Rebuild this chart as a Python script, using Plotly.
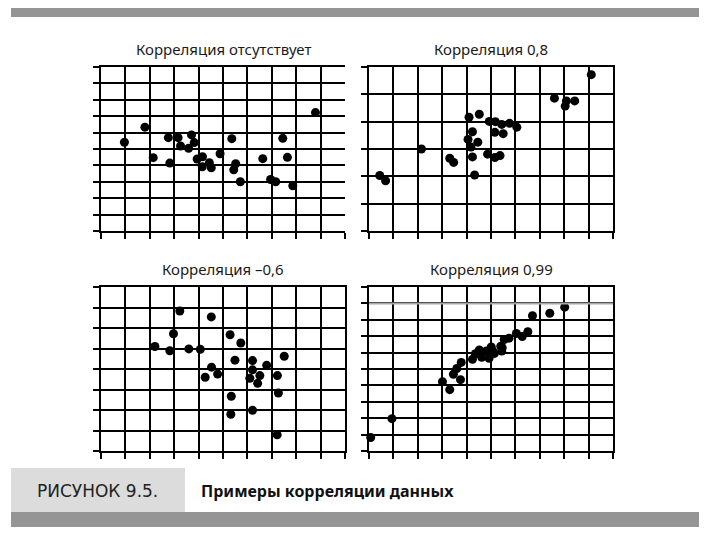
"""
    fig 9.5 -- four scatter grids showing different correlation levels
"""

import plotly.graph_objects as go


####~~~~  data in grid units


titles = ["Корреляция отсутствует", "Корреляция 0,8", "Корреляция –0,6", "Корреляция 0,99"]

# grid rows per panel (columns are always 10)
rows = [10, 6, 8, 10]

x_none = [0.96, 1.80, 2.14, 2.76, 2.82, 3.16, 3.26, 3.59, 3.71, 3.82, 3.94, 4.16, 4.15, 4.44,
          4.52, 4.88, 5.36, 5.52, 5.44, 5.71, 6.63, 6.95, 7.16, 7.45, 7.64, 7.86, 8.79]
y_none = [5.41, 6.33, 4.47, 5.69, 4.14, 5.69, 5.18, 5.04, 5.86, 5.39, 4.39, 4.53, 3.92, 4.16,
          3.86, 4.71, 5.63, 4.10, 3.73, 3.00, 4.41, 3.14, 3.00, 5.65, 4.49, 2.76, 7.22]

x_pos = [0.44, 0.68, 2.15, 3.31, 3.47, 4.10, 4.52, 4.24, 4.06, 4.46, 4.18, 4.24, 4.33, 4.93,
         5.18, 5.44, 5.76, 6.06, 5.16, 5.50, 4.86, 5.16, 5.37, 7.60, 8.09, 8.04, 8.43, 9.11]
y_pos = [2.03, 1.84, 3.00, 2.66, 2.51, 4.16, 4.27, 3.63, 3.35, 3.25, 3.07, 2.71, 2.05, 4.01,
         4.00, 3.90, 3.94, 3.80, 3.61, 3.56, 2.81, 2.69, 2.76, 4.86, 4.76, 4.57, 4.76, 5.72]

x_neg = [2.21, 2.97, 3.23, 2.82, 3.60, 4.07, 4.52, 5.29, 5.73, 4.53, 4.27, 4.78, 5.49,
         6.21, 6.21, 6.10, 6.51, 6.42, 6.79, 7.51, 7.23, 7.27, 5.34, 5.32, 6.21, 7.22]
y_neg = [5.10, 5.72, 6.83, 4.89, 4.98, 4.96, 6.54, 5.67, 5.27, 4.09, 3.60, 3.75, 4.43,
         4.41, 3.96, 3.55, 3.68, 3.30, 4.18, 4.62, 3.68, 2.83, 2.67, 1.79, 1.99, 0.79]

x_strong = [0.07, 0.94, 3.01, 3.31, 3.46, 3.60, 3.78, 3.75, 4.24, 4.36, 4.52, 4.62, 4.81, 4.92,
            5.01, 5.07, 5.14, 5.44, 5.40, 5.54, 5.74, 6.04, 6.28, 6.51, 6.70, 7.41, 8.02, 5.46]
y_strong = [0.82, 1.97, 4.23, 3.74, 4.68, 5.03, 5.40, 4.35, 5.59, 5.93, 6.16, 5.71, 6.10, 5.65,
            6.34, 6.10, 5.95, 6.10, 6.39, 6.80, 6.88, 7.17, 6.98, 7.27, 8.25, 8.40, 8.77, 6.30]

caption_tag = "РИСУНОК 9.5."
caption_text = "Примеры корреляции данных"


####~~~~


# the page body keeps its default 8px margin, so the figure is drawn 8px in
OFF = 8
W, H = 707 - OFF - 8, 541 - OFF - 8

def fx(p) :
    return (p - OFF) / W

def fy(p) :
    return 1 - (p - OFF) / H

# pixel boxes (left, right, top, bottom) of each grid, in window pixels
boxes = [(101, 345, 67, 231), (369, 613, 67, 231), (101, 345, 287, 451), (369, 613, 287, 451)]
series = [(x_none, y_none), (x_pos, y_pos), (x_neg, y_neg), (x_strong, y_strong)]


fig = go.Figure()

for i, (xs, ys) in enumerate(series) :
    n = "" if i == 0 else str(i + 1)
    fig.add_trace(go.Scatter(
        x=xs, y=ys, mode="markers",
        marker=dict(size=9, color="black"),
        xaxis="x" + n, yaxis="y" + n,
        cliponaxis=False, showlegend=False, hoverinfo="skip",
    ))

    l, r, t, b = boxes[i]
    common = dict(
        showgrid=True, gridcolor="black", gridwidth=2,
        showline=True, linecolor="black", linewidth=2,
        ticks="outside", ticklen=6, tickwidth=2, tickcolor="black",
        showticklabels=False, zeroline=False, fixedrange=True,
    )
    fig.layout["xaxis" + n] = dict(
        common, domain=[fx(l), fx(r)], range=[0, 10],
        tickvals=list(range(11)), mirror=True, anchor="y" + n,
    )
    fig.layout["yaxis" + n] = dict(
        common, domain=[fy(b), fy(t)], range=[0, rows[i]],
        tickvals=list(range(rows[i] + 1)), mirror=(i != 0), anchor="x" + n,
    )

    fig.add_annotation(
        text=titles[i], xref="paper", yref="paper",
        x=fx((l + r) / 2), y=fy(t - 18), xanchor="center", yanchor="middle",
        showarrow=False,
        font=dict(family="Noto Sans", size=15, color="#1a1a1a"),
    )

# one grid line in the last panel came out grey in the print
fig.add_shape(type="line", xref="x4", yref="y4", x0=-0.25, x1=10, y0=9, y1=9,
              line=dict(color="#a8a8a8", width=2), layer="above")

# page furniture: bars and the caption block
fig.add_shape(type="rect", xref="paper", yref="paper", x0=fx(11), x1=fx(699), y0=fy(17), y1=fy(8),
              fillcolor="#959595", line_width=0)
fig.add_shape(type="rect", xref="paper", yref="paper", x0=fx(11), x1=fx(185), y0=fy(512), y1=fy(468),
              fillcolor="#dcdcdc", line_width=0)
fig.add_shape(type="rect", xref="paper", yref="paper", x0=fx(11), x1=fx(699), y0=fy(527), y1=fy(512),
              fillcolor="#959595", line_width=0)

fig.add_annotation(text=caption_tag, xref="paper", yref="paper", x=fx(97), y=fy(491),
                   xanchor="center", yanchor="middle", showarrow=False,
                   font=dict(family="DejaVu Sans", size=17, color="#222"))
fig.add_annotation(text="<b>" + caption_text + "</b>", xref="paper", yref="paper",
                   x=fx(199), y=fy(491), xanchor="left", yanchor="middle", showarrow=False,
                   font=dict(family="Noto Sans", size=16, color="#111"))

fig.update_layout(
    width=W, height=H,
    margin=dict(l=0, r=0, t=0, b=0),
    paper_bgcolor="white", plot_bgcolor="white",
)

fig.write_html("out.html")
